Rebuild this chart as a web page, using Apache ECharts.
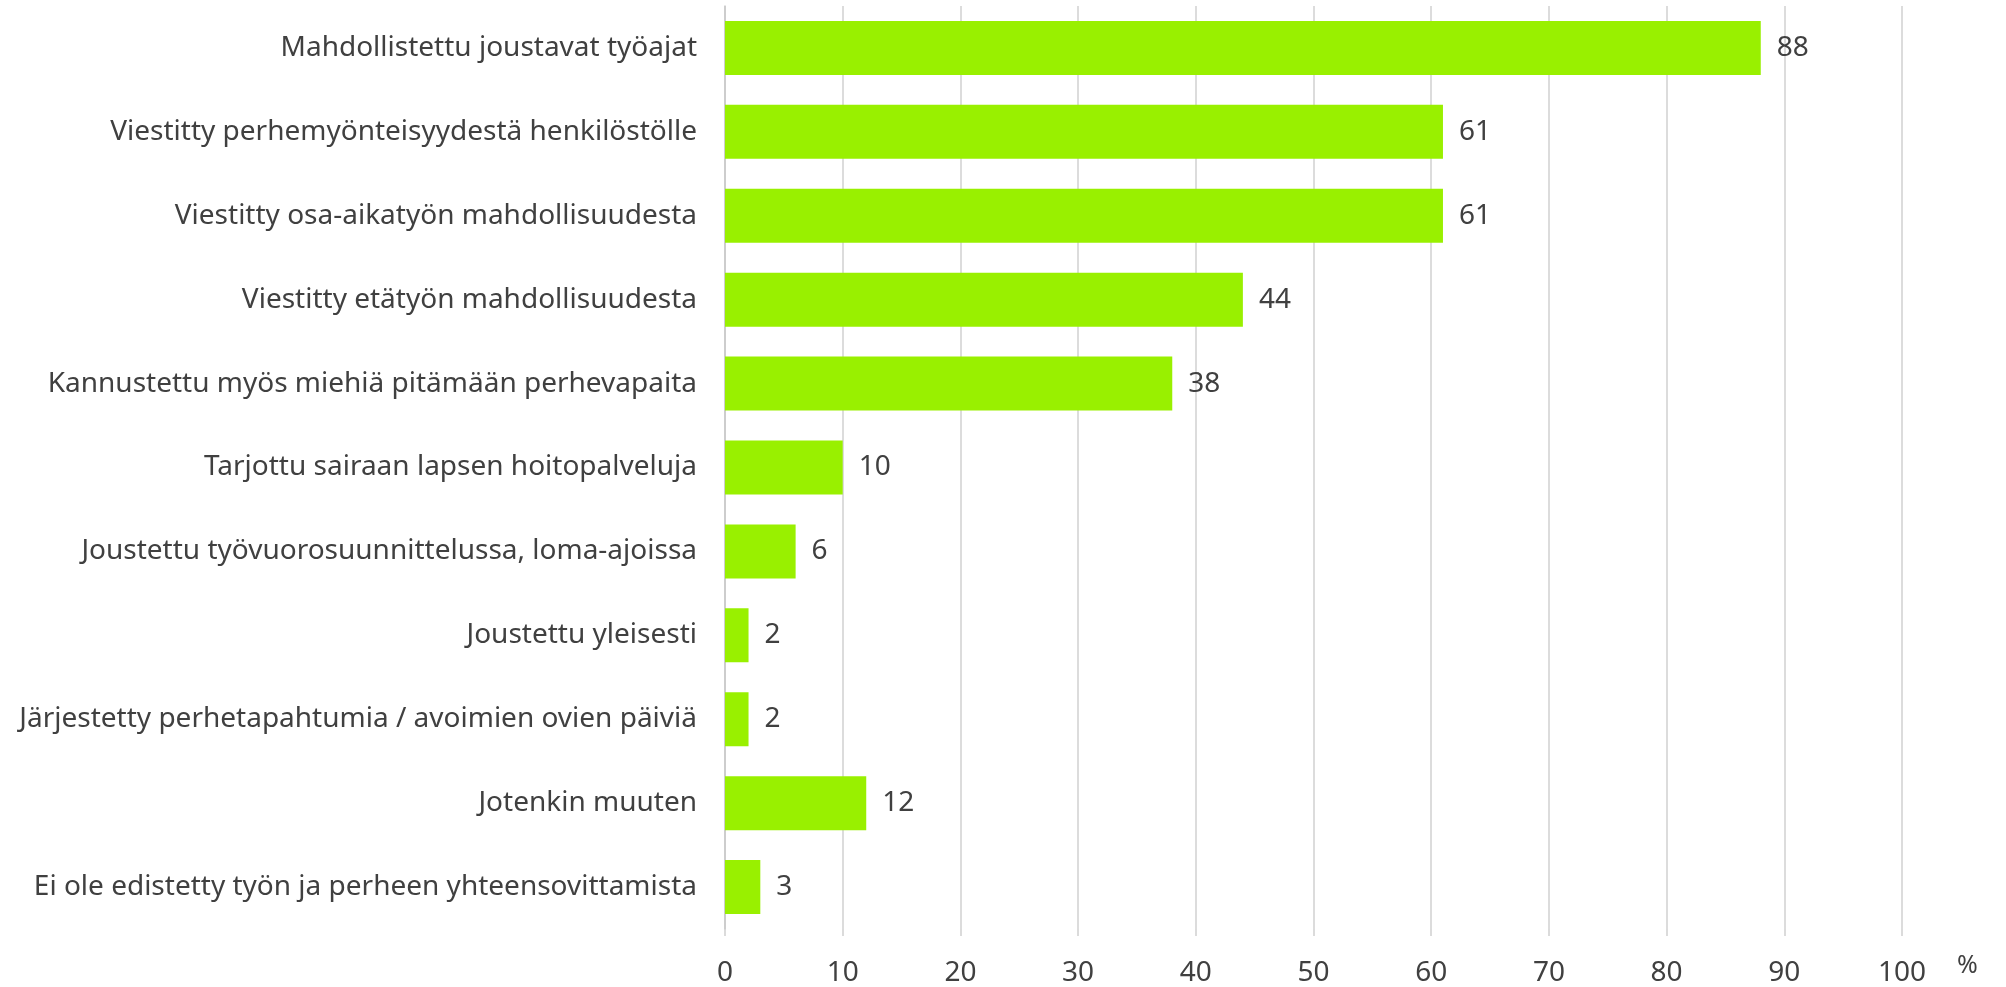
<!DOCTYPE html>
<html>
<head>
<meta charset="utf-8">
<script src="https://cdn.jsdelivr.net/npm/echarts@6/dist/echarts.min.js"></script>
<style>
html,body{margin:0;padding:0;background:#fff;}
#chart{width:2006px;height:987px;}
</style>
</head>
<body>
<div id="chart"></div>
<script>
const categories = [
  "Mahdollistettu joustavat työajat",
  "Viestitty perhemyönteisyydestä henkilöstölle",
  "Viestitty osa-aikatyön mahdollisuudesta",
  "Viestitty etätyön mahdollisuudesta",
  "Kannustettu myös miehiä pitämään perhevapaita",
  "Tarjottu sairaan lapsen hoitopalveluja",
  "Joustettu työvuorosuunnittelussa, loma-ajoissa",
  "Joustettu yleisesti",
  "Järjestetty perhetapahtumia / avoimien ovien päiviä",
  "Jotenkin muuten",
  "Ei ole edistetty työn ja perheen yhteensovittamista"
];
const values = [88, 61, 61, 44, 38, 10, 6, 2, 2, 12, 3];
const axisUnit = "%";

const font = "'Noto Sans', 'Open Sans', sans-serif";
const textColor = "#404040";
const chart = echarts.init(document.getElementById('chart'), null, {renderer: 'canvas'});
chart.setOption({
  animation: false,
  backgroundColor: '#ffffff',
  grid: {left: 725, right: 104, top: 6, bottom: 53, containLabel: false},
  xAxis: {
    type: 'value', min: 0, max: 100, interval: 10,
    name: axisUnit, nameLocation: 'end', nameGap: 55,
    nameTextStyle: {fontFamily: font, fontSize: 25, color: textColor, verticalAlign: 'top', padding: [24, 0, 0, 0]},
    axisLine: {show: false},
    axisTick: {show: true, length: 7, lineStyle: {color: '#d0d0d0', width: 1.5}},
    splitLine: {show: true, lineStyle: {color: '#d0d0d0', width: 1.5}},
    axisLabel: {fontFamily: font, fontSize: 28, color: textColor, margin: 30}
  },
  yAxis: {
    type: 'category', data: categories, inverse: true,
    axisLine: {show: true, lineStyle: {color: '#c8c8c8', width: 1.5}},
    axisTick: {show: false},
    axisLabel: {fontFamily: font, fontSize: 28, color: textColor, margin: 28}
  },
  series: [{
    type: 'bar', data: values, barWidth: 54,
    itemStyle: {color: '#99F000'},
    label: {show: true, position: 'right', distance: 16, fontFamily: font, fontSize: 28, color: textColor}
  }]
});
</script>
</body>
</html>
